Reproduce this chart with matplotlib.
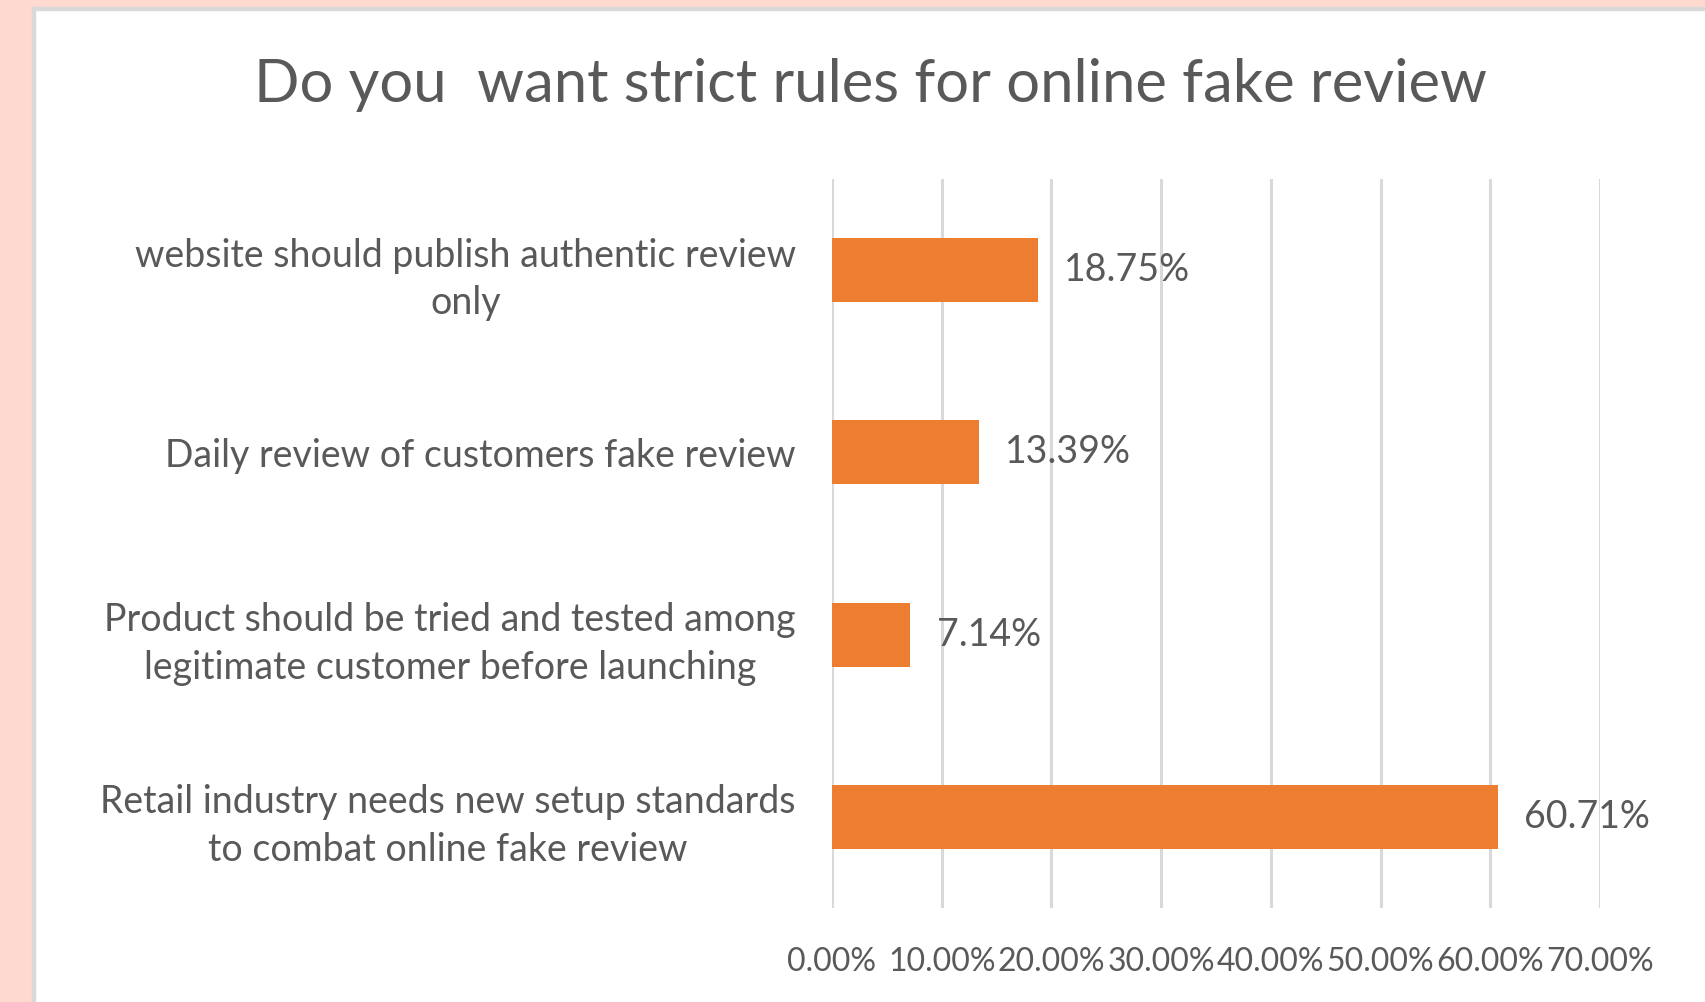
import matplotlib.pyplot as plt
from matplotlib.patches import Rectangle
from matplotlib.ticker import FuncFormatter

plt.rcParams['font.family'] = ['Lato', 'DejaVu Sans']

categories = [
    'website should publish authentic review\nonly',
    'Daily review of customers fake review',
    'Product should be tried and tested among\nlegitimate customer before launching',
    'Retail industry needs new setup standards\nto combat online fake review',
]
values = [18.75, 13.39, 7.14, 60.71]
xticks = [0, 10, 20, 30, 40, 50, 60, 70]

fig = plt.figure(figsize=(17.06, 10.02), dpi=100)
fig.patch.set_facecolor('white')

# pink page around the chart + grey chart border
W, H = 1706, 1002
fig.patches.append(Rectangle((0, 0), 32 / W, 1, transform=fig.transFigure,
                             color='#FDD9D0', zorder=0))
fig.patches.append(Rectangle((0, 1 - 7 / H), 1, 7 / H, transform=fig.transFigure,
                             color='#FDD9D0', zorder=0))
fig.patches.append(Rectangle((32 / W, 0), 3 / W, 1 - 7 / H, transform=fig.transFigure,
                             color='#D9D9D9', zorder=0))
fig.patches.append(Rectangle((32 / W, 1 - 10 / H), 1, 3 / H, transform=fig.transFigure,
                             color='#D9D9D9', zorder=0))

ax = fig.add_axes([832 / W, 1 - 908 / H, 768 / W, 729 / H])
ypos = list(range(len(categories)))
ax.barh(ypos, values, height=0.35, color='#ED7D31', zorder=3)
ax.set_ylim(len(categories) - 0.5, -0.5)
ax.set_xlim(0, 70)
ax.set_xticks(xticks)
ax.xaxis.set_major_formatter(FuncFormatter(lambda v, p: f'{v:.2f}%'))
ax.set_yticks(ypos)
ax.set_yticklabels(categories, multialignment='center', linespacing=1.4)
ax.tick_params(axis='y', length=0, pad=26, labelsize=27, labelcolor='#595959')
ax.tick_params(axis='x', length=0, pad=28, labelsize=23, labelcolor='#595959')
ax.grid(axis='x', color='#D9D9D9', linewidth=2.2, zorder=0)
for s in ax.spines.values():
    s.set_visible(False)

for y, v in zip(ypos, values):
    ax.text(v + 2.4, y, f'{v:.2f}%', va='center', ha='left',
            fontsize=27, color='#595959')

fig.text(870 / W, 1 - 85 / H, 'Do you  want strict rules for online fake review',
         ha='center', va='center', fontsize=43, color='#595959')

fig.savefig('out.png', dpi=100)
